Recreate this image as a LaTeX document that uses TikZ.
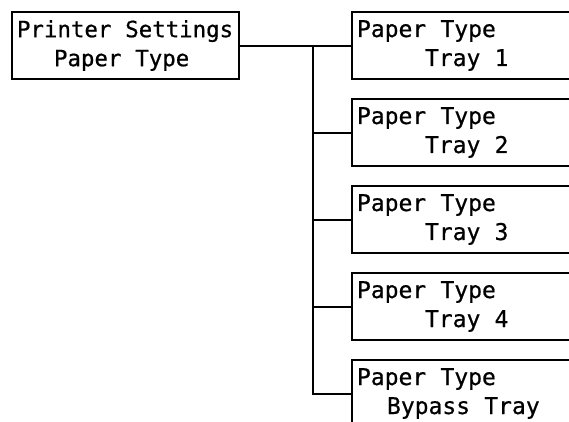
\documentclass[tikz,border=0pt]{standalone}
\usepackage{fontspec}
\setmonofont{DejaVu Sans Mono}[FakeBold=0.7]
\newcommand\gapsp{\hspace*{0.62em}}
\begin{document}
\begin{tikzpicture}[x=1pt,y=-1pt,
  box/.style={draw, line width=2pt, anchor=north west, minimum height=67pt,
    inner xsep=5pt, inner ysep=0pt, align=left,
    font=\ttfamily\fontsize{23}{29}\selectfont},
  leftbox/.style={box, text width=217pt,
    font=\ttfamily\fontsize{22.4}{29}\selectfont},
  rightbox/.style={box, text width=260pt},
  link/.style={draw, line width=2pt}]
\useasboundingbox (0,0) rectangle (569,421);
\clip (0,0) rectangle (569,421);
\node[leftbox] (ps) at (11,11) {Printer\gapsp Settings\\\hspace*{37pt}Paper\gapsp Type};
\node[rightbox] (t1) at (351,11) {Paper\gapsp Type\\\hspace*{68pt}Tray\gapsp 1};
\node[rightbox] (t2) at (351,98) {Paper\gapsp Type\\\hspace*{68pt}Tray\gapsp 2};
\node[rightbox] (t3) at (351,185) {Paper\gapsp Type\\\hspace*{68pt}Tray\gapsp 3};
\node[rightbox] (t4) at (351,272) {Paper\gapsp Type\\\hspace*{68pt}Tray\gapsp 4};
\node[rightbox] (bp) at (351,359) {Paper\gapsp Type\\\hspace*{30pt}Bypass\gapsp Tray};
\coordinate (j) at (313,0);
\draw[link] (ps.east) -- (t1.west);
\draw[link] (ps.east -| j) |- (bp.west);
\foreach \n in {t2,t3,t4} \draw[link] (\n.west) -- (\n.west -| j);
\end{tikzpicture}
\end{document}
